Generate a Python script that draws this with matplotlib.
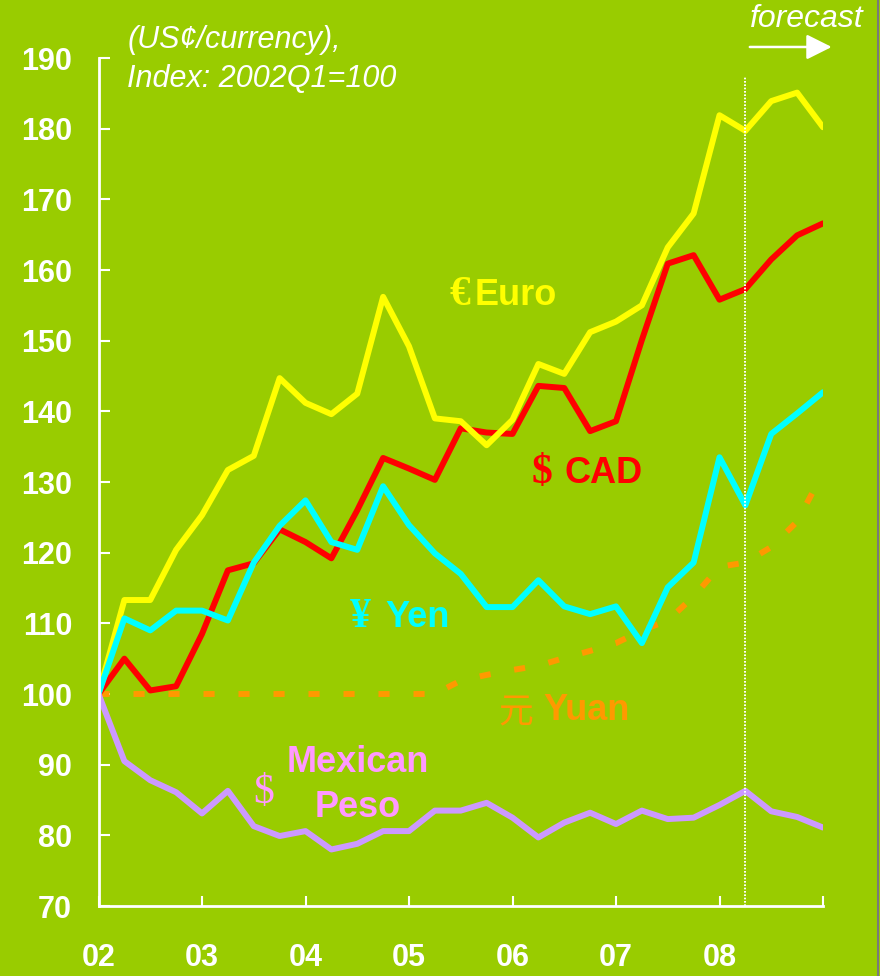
# -*- coding: utf-8 -*-
"""
Currency index chart: US cents per unit of currency, 2002Q1 = 100,
with forecast quarters after 2008Q2.
"""
import numpy as np
import matplotlib
matplotlib.use('Agg')
import matplotlib.pyplot as plt
from matplotlib.lines import Line2D

# quarterly index values, 2002Q1 .. 2009Q1
euro = [100, 113.3, 113.3, 120.4, 125.3, 131.7, 133.7, 144.7, 141.2, 139.6,
        142.5, 156.2, 149.2, 139.0, 138.6, 135.2, 138.8, 146.7, 145.3, 151.2,
        152.7, 155.0, 163.2, 168.0, 181.9, 179.7, 183.9, 185.1, 180.2]
cad = [100, 105.0, 100.5, 101.1, 108.5, 117.5, 118.5, 123.3, 121.5, 119.2,
       126.0, 133.4, 131.9, 130.3, 137.6, 137.0, 136.8, 143.6, 143.3, 137.2,
       138.6, 150.1, 160.9, 162.1, 155.8, 157.3, 161.5, 164.9, 166.6]
yen = [100, 110.7, 109.0, 111.8, 111.8, 110.4, 118.6, 123.8, 127.4, 121.5,
       120.4, 129.4, 123.9, 119.9, 117.0, 112.3, 112.3, 116.1, 112.4, 111.3,
       112.4, 107.2, 115.1, 118.6, 133.5, 126.7, 136.8, 139.7, 142.7]
yuan = [100, 100, 100, 100, 100, 100, 100, 100, 100, 100,
        100, 100, 100, 100, 101.9, 102.7, 103.4, 104.0, 105.1, 106.1,
        107.2, 109.0, 110.4, 113.8, 118.0, 118.6, 120.8, 124.4, 131.3]
peso = [100, 90.5, 87.8, 86.1, 83.1, 86.3, 81.3, 79.9, 80.6, 78.0,
        78.8, 80.6, 80.6, 83.5, 83.5, 84.6, 82.5, 79.7, 81.8, 83.2,
        81.6, 83.5, 82.3, 82.5, 84.3, 86.3, 83.4, 82.6, 81.1]

start_year = 2002
forecast_start = 2008.25
year_ticks = [2002, 2003, 2004, 2005, 2006, 2007, 2008, 2009]
year_labels = ['02', '03', '04', '05', '06', '07', '08', '']
y_ticks = [70, 80, 90, 100, 110, 120, 130, 140, 150, 160, 170, 180, 190]

BG = '#99CC00'
SANS = 'Liberation Sans'
SERIF = 'Liberation Serif'
CJK = 'Noto Sans CJK SC'

plt.rcParams['font.family'] = [SANS, 'DejaVu Sans']
plt.rcParams['font.weight'] = 'bold'
plt.rcParams['lines.scale_dashes'] = False


def main():
    t = start_year + np.arange(len(euro)) / 4.0

    fig = plt.figure(figsize=(8.8, 9.76), dpi=100, facecolor=BG)
    ax = fig.add_axes([98.5 / 880, 1 - 906 / 976, 724.5 / 880, 848 / 976])
    ax.set_facecolor(BG)

    lw = 4.3
    kw = dict(lw=lw, solid_capstyle='round', solid_joinstyle='round')
    ax.plot(t, yuan, color='#FF9900', lw=lw, dashes=(8.0, 17.2),
            dash_capstyle='butt')
    ax.plot(t, cad, color='#FF0000', **kw)
    ax.plot(t, euro, color='#FFFF00', **kw)
    ax.plot(t, yen, color='#00FFFF', **kw)
    ax.plot(t, peso, color='#CC99FF', **kw)

    # forecast divider
    ax.plot([forecast_start, forecast_start], [70, 187.3], color='white',
            lw=1.4, ls=(0, (1.2, 1.2)))

    ax.set_xlim(2002, 2009)
    ax.set_ylim(70, 190)
    ax.set_xticks(year_ticks)
    ax.set_xticklabels(year_labels)
    ax.set_yticks(y_ticks)

    for side in ('top', 'right'):
        ax.spines[side].set_visible(False)
    for side in ('left', 'bottom'):
        ax.spines[side].set_color('white')
        ax.spines[side].set_linewidth(2)
    ax.tick_params(axis='both', direction='in', color='white', width=1.5,
                   labelcolor='white', labelsize=22)
    ax.tick_params(axis='y', length=8, pad=19)
    ax.tick_params(axis='x', length=7.5, pad=27)

    # series labels
    lab = dict(fontsize=26, va='baseline')
    sym = dict(fontsize=30, va='baseline', ha='center', family=SERIF,
               weight='bold')
    ax.text(2005.488, 155.05, '\u20ac', color='#FFFF00', **sym)
    ax.text(2005.638, 155.05, 'Euro', color='#FFFF00', ha='left', **lab)
    ax.text(2006.285, 129.9, '$', color='#FF0000', **sym)
    ax.text(2006.507, 129.9, 'CAD', color='#FF0000', ha='left', **lab)
    ax.text(2004.527, 109.5, '\u00a5', color='#00FFFF', **sym)
    ax.text(2004.768, 109.5, 'Yen', color='#00FFFF', ha='left', **lab)
    ax.text(2006.034, 96.0, '\u5143', color='#FF9900', fontsize=25,
            va='baseline', ha='center', family=[CJK, 'DejaVu Sans'],
            weight='medium')
    ax.text(2006.295, 96.3, 'Yuan', color='#FF9900', ha='left', **lab)
    ax.text(2003.599, 84.6, '$', color='#FF99FF', fontsize=30,
            va='baseline', ha='center', family=SERIF, weight='normal')
    ax.text(2004.507, 88.96, 'Mexican', color='#FF99FF', ha='center', **lab)
    ax.text(2004.507, 82.6, 'Peso', color='#FF99FF', ha='center', **lab)

    # unit note and forecast marker
    note = dict(fontsize=22, style='italic', weight='normal', color='white',
                ha='left', va='baseline', transform=ax.transAxes)
    ax.text(0.040, 1.0118, '(US\u00a2/currency),', **note)
    ax.text(0.040, 0.966, 'Index: 2002Q1=100', **note)
    ax.text(0.899, 1.0366, 'forecast', fontsize=23,
            **{k: v for k, v in note.items() if k != 'fontsize'})
    ax.annotate('', xy=(1.012, 1.013), xytext=(0.899, 1.013),
                xycoords='axes fraction', textcoords='axes fraction',
                arrowprops=dict(arrowstyle='-|>,head_length=0.7,head_width=0.35',
                                color='white', lw=1.8,
                                mutation_scale=22, shrinkA=0, shrinkB=0))

    # thin frame edge on the right
    fig.add_artist(Line2D([0.998, 0.998], [0, 1], color='#7a7a7a', lw=1.5,
                          transform=fig.transFigure))

    fig.savefig('out.png', dpi=100, facecolor=BG)


if __name__ == '__main__':
    main()
